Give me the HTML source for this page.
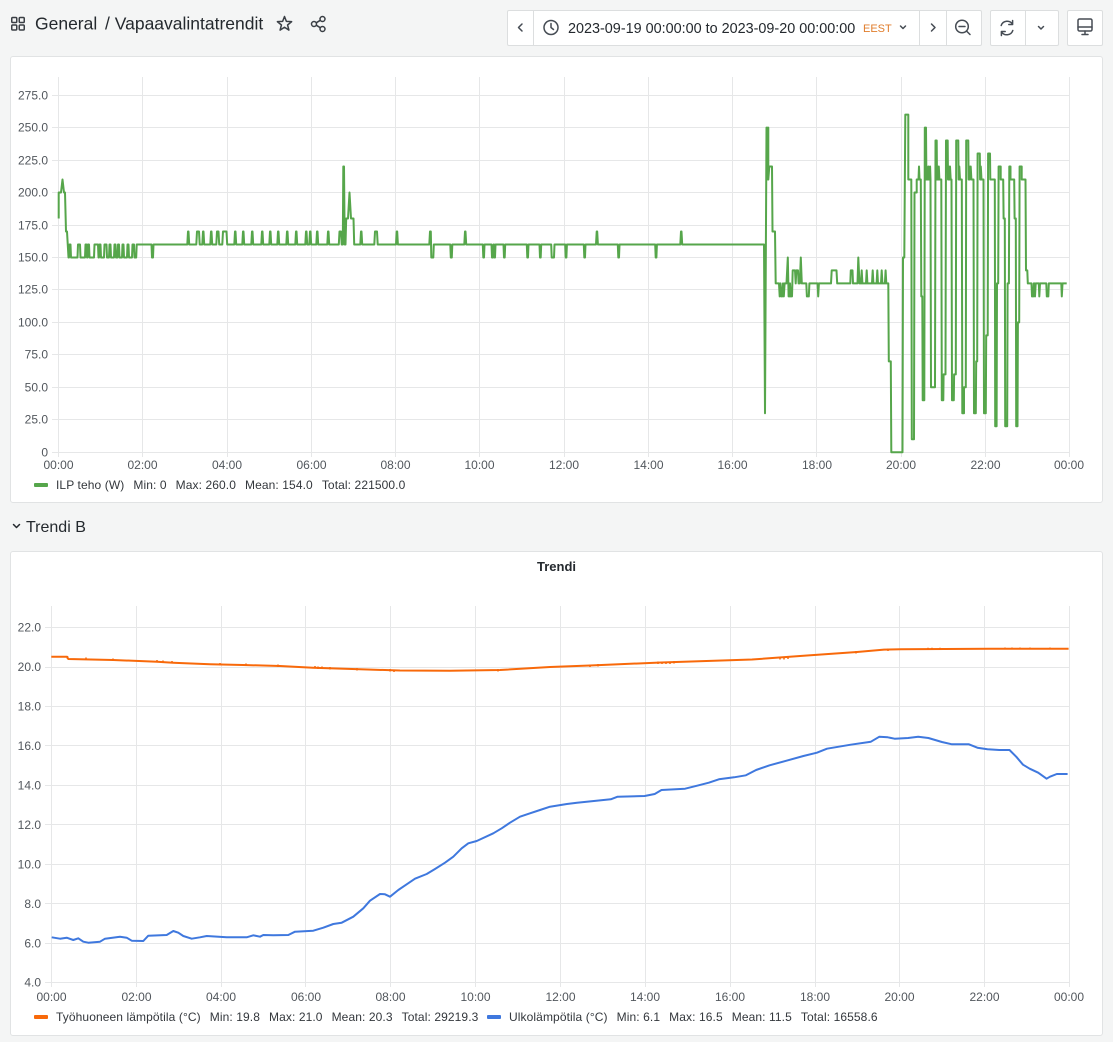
<!DOCTYPE html>
<html><head><meta charset="utf-8">
<style>
html,body{margin:0;padding:0;}
body{width:1113px;height:1042px;background:#f4f5f5;position:relative;overflow:hidden;font-family:"Liberation Sans",Arial,sans-serif;color:#24292e;}
.panel{position:absolute;background:#fff;border:1px solid #e1e3e4;border-radius:3px;box-sizing:border-box;}
.btn{position:absolute;top:10px;height:36px;background:#fff;border:1px solid #dcdedf;border-radius:2px;box-sizing:border-box;}
.legend{position:absolute;font-size:12px;color:#33373c;white-space:nowrap;height:14px;line-height:14px;letter-spacing:0.1px;}
.legend span{margin-right:9px;}
.sw{display:inline-block;width:14px;height:4px;border-radius:1px;vertical-align:middle;margin-right:8px;position:relative;top:-1px;}
</style></head>
<body>
<div class="panel" style="left:10px;top:56px;width:1093px;height:447px;"></div>
<div class="panel" style="left:10px;top:551px;width:1093px;height:485px;"></div>

<div class="btn" style="left:507px;width:475px;"></div>
<div class="btn" style="left:990px;width:69px;"></div>
<div class="btn" style="left:1067px;width:36px;"></div>

<svg width="1113" height="1042" style="position:absolute;left:0;top:0" xmlns="http://www.w3.org/2000/svg">
<!-- header -->
<g fill="none" stroke="#3a3f45" stroke-width="1.5">
  <rect x="11.75" y="17.5" width="5" height="5" rx="1"/>
  <rect x="19.25" y="17.5" width="5" height="5" rx="1"/>
  <rect x="11.75" y="25" width="5" height="5" rx="1"/>
  <rect x="19.25" y="25" width="5" height="5" rx="1"/>
  <polygon points="284.5,16.5 286.38,21.41 291.63,21.68 287.54,24.99 288.91,30.07 284.5,27.2 280.09,30.07 281.46,24.99 277.37,21.68 282.62,21.41" stroke-linejoin="round"/>
  <circle cx="322.5" cy="19" r="2.5"/>
  <circle cx="314" cy="24" r="2.5"/>
  <circle cx="322.5" cy="29" r="2.5"/>
  <path d="M316.2,22.8 L320.3,20.3 M316.2,25.2 L320.3,27.7"/>
</g>
<text x="35" y="29.5" font-size="17.5" fill="#24292e">General</text>
<text x="105" y="29.5" font-size="17.5" fill="#24292e">/ Vapaavalintatrendit</text>

<!-- toolbar -->
<g stroke="#dcdedf" stroke-width="1">
  <path d="M533.5,10 V46 M919.5,10 V46 M946.5,10 V46 M1025.5,10 V46"/>
</g>
<g fill="none" stroke="#464c54" stroke-width="1.5" stroke-linecap="round" stroke-linejoin="round">
  <path d="M522,24 L518.5,27.5 L522,31"/>
  <circle cx="551" cy="27.5" r="7"/>
  <path d="M551,23.5 V27.5 L553.5,29.5"/>
  <path d="M900.5,26 L903,28.5 L905.5,26"/>
  <path d="M931.5,24 L935,27.5 L931.5,31"/>
  <circle cx="962" cy="26.5" r="6.3"/>
  <path d="M966.6,31.1 L970,34.5 M959,26.5 H965"/>
  <path d="M1001.2,25.5 A6.3,6.3 0 0 1 1012.6,24.3 M1012.6,20.5 V24.5 H1008.8"/>
  <path d="M1012.8,30.5 A6.3,6.3 0 0 1 1001.4,31.7 M1001.4,35.5 V31.5 H1005.2"/>
  <path d="M1038.5,26.5 L1041,29 L1043.5,26.5"/>
  <rect x="1078" y="19" width="14" height="12" rx="1.5"/>
  <path d="M1078,27 H1092 M1082,34.5 H1088 M1085,31 V34.5"/>
</g>
<text x="568" y="33" font-size="14.4" fill="#24292e">2023-09-19 00:00:00 to 2023-09-20 00:00:00</text>
<text x="863" y="32" font-size="11" fill="#e07d2c">EEST</text>

<!-- top chart grid -->
<g stroke="#e6e7e8" stroke-width="1">
  <path d="M52,452.5H1069.5 M52,419.5H1069.5 M52,387.5H1069.5 M52,354.5H1069.5 M52,322.5H1069.5 M52,289.5H1069.5 M52,257.5H1069.5 M52,225.5H1069.5 M52,192.5H1069.5 M52,160.5H1069.5 M52,127.5H1069.5 M52,95.5H1069.5"/>
  <path d="M58.5,77V457 M142.5,77V457 M227.5,77V457 M311.5,77V457 M395.5,77V457 M479.5,77V457 M564.5,77V457 M648.5,77V457 M732.5,77V457 M816.5,77V457 M901.5,77V457 M985.5,77V457 M1069.5,77V457"/>
</g>
<g font-size="12" fill="#52575d" text-anchor="end">
  <text x="48" y="99.5">275.0</text>
  <text x="48" y="131.5">250.0</text>
  <text x="48" y="164.5">225.0</text>
  <text x="48" y="196.5">200.0</text>
  <text x="48" y="229.5">175.0</text>
  <text x="48" y="261.5">150.0</text>
  <text x="48" y="293.5">125.0</text>
  <text x="48" y="326.5">100.0</text>
  <text x="48" y="358.5">75.0</text>
  <text x="48" y="391.5">50.0</text>
  <text x="48" y="423.5">25.0</text>
  <text x="48" y="456.5">0</text>
</g>
<g font-size="12" fill="#52575d" text-anchor="middle">
  <text x="58.5" y="469">00:00</text>
  <text x="142.5" y="469">02:00</text>
  <text x="227" y="469">04:00</text>
  <text x="311.5" y="469">06:00</text>
  <text x="395.5" y="469">08:00</text>
  <text x="479.5" y="469">10:00</text>
  <text x="564" y="469">12:00</text>
  <text x="648.5" y="469">14:00</text>
  <text x="732.5" y="469">16:00</text>
  <text x="817" y="469">18:00</text>
  <text x="901" y="469">20:00</text>
  <text x="985.5" y="469">22:00</text>
  <text x="1069" y="469">00:00</text>
</g>

<path fill="none" stroke="#56a64b" stroke-width="2" stroke-linejoin="round" d="M58.7,218.5 V192.5 H61 L62.5,179.5 L64,192.5 H65 L66,231.5 H67 L68.5,257.5 H69 L69.5,244.5 H70.5 L71,257.5 H77.5 L78,244.5 H80 L80.5,257.5 H85 L85.5,244.5 H86.5 L87,257.5 H87.5 L88,244.5 H89 L89.5,257.5 H94 L94.5,244.5 H98 L98.5,257.5 H99 L99.5,244.5 H100.5 L101,257.5 H104 L104.5,244.5 H106.5 L107,257.5 H109 L109.5,244.5 H110.5 L111,257.5 H114 L114.5,244.5 H115.5 L116,257.5 H117.5 L118,244.5 H119 L119.5,257.5 H122 L122.5,244.5 H123.5 L124,257.5 H127 L127.5,244.5 H128.5 L129,257.5 H132 L132.5,244.5 H134 L134.5,257.5 H136.2 L136.7,244.5 H151.5 L152,257.5 H153 L153.5,244.5 H187.3 L188,231.5 H188.5 L189.2,244.5 H196.3 L197,231.5 H199 L199.7,244.5 H202.3 L203,231.5 H203.5 L204.2,244.5 H210.3 L211,231.5 H211.5 L212.2,244.5 H216.3 L217,231.5 H218.5 L219.2,244.5 H222.3 L223,231.5 H226.5 L227.2,244.5 H234.3 L235,231.5 H235.5 L236.2,244.5 H242.3 L243,231.5 H243.5 L244.2,244.5 H251.3 L252,231.5 H252.5 L253.2,244.5 H261.3 L262,231.5 H262.5 L263.2,244.5 H269.3 L270,231.5 H270.5 L271.2,244.5 H277.3 L278,231.5 H278.5 L279.2,244.5 H286.3 L287,231.5 H287.5 L288.2,244.5 H295.3 L296,231.5 H296.5 L297.2,244.5 H305.3 L306,231.5 H306.5 L307.2,244.5 H309.3 L310,231.5 H310.5 L311.2,244.5 H316.3 L317,231.5 H317.5 L318.2,244.5 H327.3 L328,231.5 H328.5 L329.2,244.5 H338.8 L339.5,231.5 H341 L341.7,244.5 H342.8 L343.3,166.5 H344 L344.7,244.5 H345.5 L346.2,218.5 H348 L349.5,192.5 L351,218.5 H353.5 L354.2,244.5 H360.3 L361,231.5 H361.5 L362.2,244.5 H374.3 L375,231.5 H377 L377.7,244.5 H396 L396.7,231.5 H397.2 L397.9,244.5 H429.3 L430,231.5 H430.8 L431.3,257.5 H433.3 L433.8,244.5 H450.3 L450.8,257.5 H451.8 L452.3,244.5 H464.3 L465,231.5 H465.5 L466.2,244.5 H482.8 L483.3,257.5 H484 L484.5,244.5 H491.5 L492,257.5 H493 L493.5,244.5 H494 L494.5,257.5 H495 L495.5,244.5 H503.5 L504,257.5 H504.7 L505.2,244.5 H526.8 L527.3,257.5 H528 L528.5,244.5 H539.5 L540,257.5 H540.7 L541.2,244.5 H551.2 L551.7,257.5 H554 L554.5,244.5 H565.2 L565.7,257.5 H566.4 L566.9,244.5 H583.8 L584.3,257.5 H585 L585.5,244.5 H596 L596.7,231.5 H597.2 L597.9,244.5 H617.8 L618.3,257.5 H619 L619.5,244.5 H655.2 L655.7,257.5 H656.4 L656.9,244.5 H680.3 L681,231.5 H681.5 L682.2,244.5 H764 L765,413.3 L766.5,127.6 V179.5 L767.3,127.6 V179.5 L768.3,127.6 V179.5 L769.3,166.5 H772 L772.5,231.5 H775 L775.7,283.4 H779 L779.7,296.4 L780.5,283.4 L781.3,296.4 H782.2 L783,283.4 L783.8,296.4 L784.6,283.4 H786.5 L787.8,257.5 L788.6,296.4 H789.5 L790,283.4 L790.7,296.4 H792 L792.7,270.4 H795 L795.7,283.4 L796.3,270.4 H798 L798.6,283.4 H799.8 L800.8,257.5 L801.8,283.4 H806.3 L806.9,296.4 H808.8 L809.4,283.4 H817.6 L818.2,296.4 L818.9,283.4 H831 L831.7,270.4 H836.5 L837.2,283.4 H850.3 L850.8,270.4 H852.5 L853,283.4 H857.5 L858.3,257.5 L859.5,283.4 H861 L861.7,270.4 L862.4,283.4 H866 L866.7,270.4 L867.4,283.4 H872 L872.7,270.4 L873.4,283.4 H876.6 L877.3,270.4 L878,283.4 H881 L881.7,270.4 L882.4,283.4 H884.9 L885.6,270.4 L886.3,283.4 H888.3 L888.8,361.4 H890.8 L891.3,452.3 H902.5 L903,257.5 H904.3 L905.3,114.6 H908.3 V179.5 H911.3 L911.8,439.3 H914 L914.5,192.5 H916.7 V179.5 H918.5 L919,166.5 L919.5,179.5 H920.8 L921.3,296.4 H922.3 L922.7,400.3 H924.3 L924.8,127.6 H926 L926.4,179.5 H928 L928.3,166.5 L928.7,179.5 H929.8 L930.1,166.5 L930.5,179.5 L931,387.3 H935 L935.5,140.5 H936.7 L937,179.5 L937.6,166.5 L938.2,179.5 L938.8,166.5 L939.4,179.5 H941.3 L941.8,400.3 H943.3 L943.6,374.4 H945.5 L946,140.5 H947.7 L948,179.5 L948.7,166.5 L949.4,179.5 L950,166.5 L950.7,179.5 H951.5 L952,400.3 H953.8 L954.1,374.4 H955.8 L956.2,140.5 H958.3 L958.6,179.5 L959.3,166.5 L960,179.5 H961.8 L962.3,413.3 H964 V387.3 H965.8 L966.2,140.5 H968.3 L968.6,179.5 L969.3,166.5 L970,179.5 L970.7,166.5 L971.4,179.5 H973.5 L974,413.3 H975.8 L976.2,361.4 H977.2 L977.6,153.5 H979.8 L980.1,179.5 L980.8,166.5 L981.5,179.5 H983.5 L984,413.3 H985.8 L986.2,335.4 H987.7 L988.1,153.5 H990 L990.3,179.5 H994.8 L995.2,426.3 H996.6 L997,283.4 H998.2 L998.6,166.5 H1000.7 V179.5 H1003.2 L1003.6,218.5 H1004.8 L1005.2,426.3 H1007.2 L1007.6,283.4 H1008.9 L1009.3,166.5 H1010.5 V179.5 H1014.2 L1014.6,218.5 H1015.8 L1016.2,426.3 H1017.5 L1017.9,322.4 H1019.2 L1019.6,166.5 H1021.7 V179.5 H1025.5 L1026,270.4 H1027.3 L1027.8,283.4 H1031.5 L1032,296.4 H1033.3 L1033.8,283.4 H1034.5 L1035,296.4 L1035.7,283.4 H1038.8 L1039.3,296.4 L1040,283.4 H1046.3 L1046.8,296.4 H1048.3 L1048.8,283.4 H1061.3 L1061.8,296.4 L1062.5,283.4 H1066.7"/>

<!-- row header -->
<path d="M13.5,524.5 L16.5,527.5 L19.5,524.5" fill="none" stroke="#24292e" stroke-width="1.5" stroke-linecap="round" stroke-linejoin="round"/>
<text x="26" y="532" font-size="16" fill="#24292e">Trendi B</text>

<!-- bottom panel -->
<text x="556.5" y="571" font-size="13" font-weight="bold" fill="#24292e" text-anchor="middle">Trendi</text>
<g stroke="#e6e7e8" stroke-width="1">
  <path d="M45,982.5H1069.5 M45,943.5H1069.5 M45,903.5H1069.5 M45,864.5H1069.5 M45,824.5H1069.5 M45,785.5H1069.5 M45,745.5H1069.5 M45,706.5H1069.5 M45,667.5H1069.5 M45,627.5H1069.5"/>
  <path d="M51.5,606V987 M136.5,606V987 M221.5,606V987 M305.5,606V987 M390.5,606V987 M475.5,606V987 M560.5,606V987 M645.5,606V987 M730.5,606V987 M815.5,606V987 M899.5,606V987 M984.5,606V987 M1069.5,606V987"/>
</g>
<g font-size="12" fill="#52575d" text-anchor="end">
  <text x="41" y="631.5">22.0</text>
  <text x="41" y="671">20.0</text>
  <text x="41" y="710.5">18.0</text>
  <text x="41" y="750">16.0</text>
  <text x="41" y="789.5">14.0</text>
  <text x="41" y="829">12.0</text>
  <text x="41" y="868.5">10.0</text>
  <text x="41" y="908">8.0</text>
  <text x="41" y="947.5">6.0</text>
  <text x="41" y="986.5">4.0</text>
</g>
<g font-size="12" fill="#52575d" text-anchor="middle">
  <text x="51.5" y="1001">00:00</text>
  <text x="136.5" y="1001">02:00</text>
  <text x="221" y="1001">04:00</text>
  <text x="306" y="1001">06:00</text>
  <text x="390.5" y="1001">08:00</text>
  <text x="475.5" y="1001">10:00</text>
  <text x="560.5" y="1001">12:00</text>
  <text x="645" y="1001">14:00</text>
  <text x="730" y="1001">16:00</text>
  <text x="815" y="1001">18:00</text>
  <text x="899.5" y="1001">20:00</text>
  <text x="984.5" y="1001">22:00</text>
  <text x="1069" y="1001">00:00</text>
</g>

<path fill="none" stroke="#f8690a" stroke-width="2" stroke-linejoin="round" d="M51.3,656.7 H67 L68.3,659 L113,660 L157,661.7 L173,662.7 L210,664.3 L243,665 L280,666 L313,667.7 L360,669.3 L400,670.5 L450,670.8 L500,670 L550,667 L590,665.5 L661,662.5 L752,659.5 L807,655.5 L857,652 L884,649.6 L901,649.2 L989,648.8 L1068.6,648.8"/>
<path fill="none" stroke="#f8690a" stroke-width="1.5" d="M67.5,656 v3 M86,657.5 v2.5 M113,658.5 v2.5 M157,660 v2.5 M163,660.5 v2.5 M172,661 v2.5 M220,663 v2.5 M246,663.5 v2.5 M278,664.5 v2.5 M315,666 v2.5 M318,666.5 v2.5 M322,666.5 v2.5 M330,667 v2.5 M357,668 v2.5 M390,669 v2.5 M394,669.5 v2.5 M498,669 v2.5 M590,664.5 v2.5 M598,664 v2.5 M658,661.5 v2.5 M662,661.5 v2.5 M666,661.5 v2.5 M670,661.5 v2.5 M674,661 v2.5 M780,657 v2.5 M784,657 v2.5 M788,656.5 v2.5 M856,651 v2.5 M888,648.5 v2.5 M928,647.8 v2 M932,647.8 v2 M940,647.8 v2 M1005,647.5 v2 M1012,647.5 v2 M1020,647.5 v2 M1030,647.5 v2 M1050,647.5 v2"/>

<path fill="none" stroke="#3f78de" stroke-width="2" stroke-linejoin="round" d="M51.7,937.3 L60,938.7 L66.7,937.7 L73.3,940 L78.3,938.3 L83.3,941.7 L88.3,942.7 L100,941.7 L105,938.7 L120,936.7 L126.7,937.7 L131.7,940.7 L143.3,941 L148.3,935.7 L166.7,935 L173.3,931 L178.3,932.7 L183.3,936 L191.7,938.7 L200,937.3 L206.7,936 L226.7,937.3 L246.7,937.3 L253.3,935.3 L260,936.7 L263.3,935 L273.3,935.3 L288.3,935 L295,931.7 L313.3,930.7 L323.3,927.7 L333.3,924 L341.7,922.7 L353.3,916.7 L363.3,908.3 L370,900.7 L380,894 L385,894.3 L390,896.7 L398.3,890 L406.7,884.3 L415,878.7 L426.7,874 L435,869 L445,862.7 L453.3,856.7 L461.7,848.3 L468.3,843.3 L476.7,841 L493.3,833.3 L501.7,828.3 L510,822.7 L520,816.7 L530,813.3 L540,810 L550,806.7 L566.9,804 L577,802.7 L610.8,799.3 L617.6,796.7 L644.6,796 L654.7,794 L661.5,790 L685.1,788.7 L698.6,785.3 L708.8,782.7 L718.9,779.3 L734.1,777.3 L745.9,775.3 L756.1,770 L769.6,765.3 L786.5,760.7 L803.4,756 L816.9,752.7 L827,748.7 L850.7,744.7 L870.9,741.7 L879.4,736.7 L887.8,737.3 L894.6,738.7 L908.1,738 L918.2,736.7 L928.4,738 L941.9,742 L952,744.3 L968.9,744.3 L977.4,747.7 L987.5,749.3 L999.3,750 L1009.5,750 L1016.2,756.7 L1023,764.7 L1029.7,768.7 L1038.2,772.7 L1046.6,778.7 L1050,776.7 L1056.8,774 L1067.6,774"/>
</svg>

<div class="legend" style="left:34px;top:478px;"><i class="sw" style="background:#56a64b"></i><span>ILP teho (W)</span><span>Min: 0</span><span>Max: 260.0</span><span>Mean: 154.0</span><span>Total: 221500.0</span></div>
<div class="legend" style="left:34px;top:1010px;"><i class="sw" style="background:#f8690a"></i><span>Työhuoneen lämpötila (°C)</span><span>Min: 19.8</span><span>Max: 21.0</span><span>Mean: 20.3</span><span>Total: 29219.3</span></div>
<div class="legend" style="left:487px;top:1010px;"><i class="sw" style="background:#3f78de"></i><span>Ulkolämpötila (°C)</span><span>Min: 6.1</span><span>Max: 16.5</span><span>Mean: 11.5</span><span>Total: 16558.6</span></div>
</body></html>
